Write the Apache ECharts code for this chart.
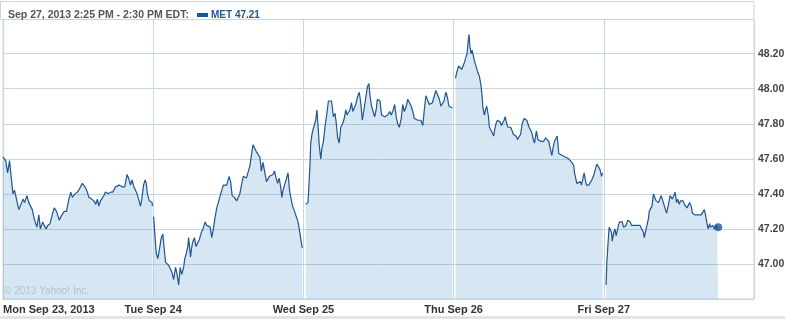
<!DOCTYPE html>
<html><head><meta charset="utf-8">
<script src="https://cdn.jsdelivr.net/npm/echarts@6/dist/echarts.min.js"></script>
<style>html,body{margin:0;padding:0;background:#fff}#c{width:809px;height:319px}</style>
</head><body><div id="c"></div>
<script>
// Session day labels (each trading session = 390 minutes, 9:30 AM - 4:00 PM)
const DAY_LABELS = ['Mon Sep 23, 2013', 'Tue Sep 24', 'Wed Sep 25', 'Thu Sep 26', 'Fri Sep 27'];
const Y_TICKS = [47.00, 47.20, 47.40, 47.60, 47.80, 48.00, 48.20];
const HEADER = 'Sep 27, 2013 2:25 PM - 2:30 PM EDT:';
const TICKER = 'MET';
const COPYRIGHT = '\u00a9 2013 Yahoo! Inc.';

// [minutes since open, price]
const MON = [[0,47.61],[7,47.59],[12,47.52],[17,47.59],[21,47.50],[26,47.40],[30,47.42],[36,47.36],[41,47.31],[46,47.32],[52,47.37],[56,47.35],[62,47.39],[67,47.35],[70,47.36],[76,47.31],[82,47.25],[88,47.21],[93,47.28],[97,47.20],[103,47.24],[107,47.22],[112,47.20],[116,47.22],[122,47.23],[129,47.29],[133,47.32],[139,47.30],[146,47.25],[153,47.28],[159,47.30],[165,47.30],[170,47.36],[176,47.41],[180,47.38],[187,47.40],[193,47.41],[199,47.43],[206,47.46],[213,47.44],[219,47.41],[223,47.38],[230,47.37],[236,47.36],[241,47.34],[245,47.37],[249,47.33],[253,47.36],[258,47.37],[262,47.39],[266,47.41],[273,47.40],[279,47.41],[285,47.41],[292,47.44],[296,47.45],[302,47.45],[309,47.44],[316,47.44],[322,47.51],[326,47.49],[331,47.45],[335,47.48],[340,47.44],[344,47.42],[348,47.40],[352,47.37],[357,47.33],[361,47.38],[365,47.45],[369,47.48],[372,47.46],[375,47.40],[380,47.36],[384,47.37],[387,47.35],[388,47.33]];
const TUE = [[1,47.27],[4,47.18],[8,47.06],[12,47.03],[16,47.08],[21,47.15],[25,47.17],[28,47.16],[32,47.01],[36,47.00],[41,46.99],[45,46.97],[49,46.95],[53,46.91],[58,46.98],[62,46.94],[66,46.88],[70,46.98],[74,46.94],[79,46.98],[82,47.03],[86,47.06],[90,47.10],[92,47.15],[97,47.04],[99,47.08],[102,47.12],[107,47.15],[111,47.10],[115,47.10],[120,47.14],[125,47.18],[131,47.21],[135,47.24],[139,47.22],[144,47.21],[148,47.21],[152,47.15],[157,47.21],[161,47.27],[165,47.32],[169,47.35],[174,47.39],[178,47.39],[182,47.45],[187,47.45],[191,47.45],[197,47.50],[201,47.47],[205,47.39],[211,47.38],[217,47.36],[221,47.38],[225,47.40],[230,47.46],[234,47.50],[238,47.51],[242,47.49],[246,47.50],[251,47.56],[255,47.62],[259,47.68],[264,47.68],[268,47.64],[272,47.63],[277,47.61],[281,47.53],[285,47.58],[290,47.52],[294,47.47],[298,47.48],[302,47.50],[307,47.51],[311,47.51],[315,47.53],[318,47.50],[323,47.46],[327,47.49],[331,47.44],[334,47.38],[337,47.42],[341,47.45],[345,47.48],[350,47.52],[354,47.42],[358,47.37],[362,47.33],[367,47.30],[371,47.30],[376,47.24],[380,47.19],[384,47.13],[387,47.09]];
const WED = [[6,47.34],[12,47.35],[15,47.36],[17,47.56],[19,47.69],[23,47.75],[28,47.79],[32,47.82],[35,47.88],[38,47.79],[41,47.68],[45,47.60],[48,47.66],[52,47.70],[56,47.78],[61,47.86],[65,47.93],[69,47.94],[73,47.93],[78,47.84],[82,47.86],[85,47.81],[89,47.72],[93,47.69],[97,47.78],[102,47.80],[106,47.83],[110,47.88],[113,47.85],[116,47.86],[121,47.88],[125,47.92],[128,47.87],[132,47.89],[136,47.91],[140,47.95],[145,47.98],[149,47.92],[153,47.82],[158,47.89],[162,47.95],[166,48.01],[170,48.03],[173,47.96],[177,47.90],[181,47.87],[185,47.84],[189,47.88],[192,47.94],[196,47.95],[199,47.93],[203,47.85],[207,47.84],[211,47.84],[215,47.84],[219,47.85],[224,47.87],[228,47.85],[232,47.87],[237,47.91],[241,47.84],[245,47.80],[249,47.78],[254,47.83],[258,47.91],[262,47.87],[267,47.90],[271,47.94],[275,47.94],[280,47.90],[284,47.87],[288,47.83],[292,47.82],[297,47.82],[301,47.83],[305,47.82],[310,47.79],[314,47.88],[318,47.96],[322,47.96],[327,47.91],[331,47.91],[335,47.92],[340,47.96],[344,47.99],[348,47.99],[353,47.94],[357,47.90],[361,47.90],[365,47.93],[370,47.98],[374,47.95],[378,47.90],[383,47.90],[387,47.89]];
const THU = [[5,48.06],[9,48.10],[13,48.13],[18,48.13],[21,48.11],[25,48.10],[28,48.15],[32,48.18],[35,48.20],[37,48.25],[40,48.31],[42,48.25],[45,48.20],[48,48.22],[50,48.23],[54,48.16],[58,48.13],[62,48.10],[67,48.07],[71,48.02],[74,47.96],[76,47.89],[80,47.85],[83,47.88],[86,47.90],[90,47.85],[93,47.78],[97,47.78],[100,47.75],[104,47.73],[107,47.77],[110,47.80],[114,47.82],[117,47.83],[121,47.81],[124,47.79],[128,47.80],[131,47.82],[134,47.84],[138,47.80],[141,47.78],[145,47.77],[148,47.78],[152,47.76],[155,47.74],[159,47.74],[162,47.73],[166,47.71],[170,47.71],[174,47.74],[178,47.80],[183,47.83],[186,47.83],[190,47.82],[193,47.80],[196,47.78],[200,47.78],[203,47.75],[207,47.71],[210,47.69],[213,47.73],[215,47.76],[219,47.71],[222,47.70],[226,47.70],[230,47.70],[234,47.70],[239,47.72],[243,47.72],[247,47.70],[251,47.66],[255,47.62],[258,47.66],[262,47.70],[265,47.71],[269,47.73],[273,47.63],[277,47.62],[281,47.62],[286,47.61],[290,47.61],[294,47.60],[299,47.60],[303,47.59],[307,47.58],[312,47.56],[314,47.52],[317,47.49],[320,47.46],[324,47.45],[329,47.47],[332,47.45],[336,47.45],[339,47.52],[342,47.48],[345,47.45],[348,47.45],[351,47.45],[355,47.46],[359,47.48],[363,47.50],[368,47.54],[372,47.57],[376,47.57],[380,47.54],[384,47.50],[387,47.52]];
const FRI = [[6,46.88],[8,47.01],[11,47.12],[14,47.21],[17,47.22],[20,47.18],[22,47.13],[26,47.18],[29,47.20],[32,47.16],[34,47.15],[38,47.22],[41,47.24],[45,47.24],[48,47.24],[51,47.21],[55,47.20],[58,47.22],[62,47.25],[65,47.26],[69,47.24],[72,47.22],[75,47.21],[79,47.22],[82,47.23],[86,47.22],[90,47.21],[94,47.22],[99,47.21],[103,47.18],[105,47.15],[109,47.19],[112,47.22],[116,47.26],[118,47.30],[122,47.30],[125,47.33],[129,47.40],[132,47.38],[136,47.36],[139,47.35],[142,47.35],[146,47.36],[149,47.39],[153,47.38],[156,47.34],[160,47.31],[163,47.29],[165,47.28],[168,47.34],[172,47.39],[175,47.38],[178,47.37],[182,47.39],[185,47.41],[189,47.35],[192,47.37],[196,47.34],[199,47.36],[202,47.35],[206,47.36],[209,47.34],[213,47.35],[216,47.32],[220,47.33],[223,47.35],[227,47.33],[230,47.29],[233,47.29],[237,47.28],[240,47.28],[244,47.28],[249,47.28],[253,47.28],[257,47.29],[261,47.31],[264,47.28],[268,47.23],[271,47.20],[275,47.23],[277,47.21],[281,47.21],[283,47.22],[287,47.20],[289,47.19],[292,47.22],[294,47.20],[297,47.21]];

const DAYS = [MON, TUE, WED, THU, FRI];
const SESSION = 390;
const LINE = '#1f5592';
const GRID = '#c9d6df';

const chart = echarts.init(document.getElementById('c'), null, {renderer: 'canvas'});
const last = FRI[FRI.length - 1];
const series = DAYS.map((arr, d) => ({
  name: TICKER, type: 'line', showSymbol: false, animation: false,
  data: arr.map(p => [d * SESSION + p[0], p[1]]),
  lineStyle: {color: LINE, width: 1.2},
  itemStyle: {color: LINE},
  areaStyle: {origin: 'start', color: 'rgba(70,140,195,0.22)', opacity: 1}
}));
series.push({
  name: TICKER, type: 'scatter', animation: false, symbolSize: 8,
  itemStyle: {color: LINE},
  data: [[4 * SESSION + last[0], last[1]]]
});

chart.setOption({
  animation: false,
  title: {text: HEADER, left: 3, top: 5, textStyle: {fontFamily: 'Liberation Sans', fontSize: 10.5, fontWeight: 'bold', color: '#555'}},
  legend: {
    left: 192, top: 5, icon: 'rect', itemWidth: 11, itemHeight: 4, itemGap: 4,
    data: [TICKER],
    formatter: n => n + ' ' + last[1].toFixed(2),
    textStyle: {fontFamily: 'Liberation Sans', fontSize: 10, fontWeight: 'bold', color: LINE, padding: [0,0,0,-2]}
  },
  grid: {left: 0, right: 55, top: 19.5, bottom: 20, show: true, borderColor: GRID, borderWidth: 1},
  graphic: [
    {type: 'rect', shape: {x: 0.5, y: 1.5, width: 753.5, height: 18}, style: {fill: '#fff', stroke: GRID, lineWidth: 1}, z: 1},
    {type: 'text', left: 4, top: 286, style: {text: COPYRIGHT, fontFamily: 'Liberation Sans', fontSize: 10, fill: '#b3c3d0'}, z: 10},
    {type: 'rect', shape: {x: 0, y: 316, width: 785, height: 3}, style: {fill: '#e3e3e3'}}
  ],
  xAxis: {
    type: 'value', min: 0, max: 5 * SESSION, interval: SESSION,
    axisLine: {lineStyle: {color: GRID}}, axisTick: {show: false},
    splitLine: {lineStyle: {color: GRID, width: 1}},
    axisLabel: {
      margin: 5, color: '#333', fontFamily: 'Liberation Sans', fontWeight: 'bold', fontSize: 11,
      alignMinLabel: 'left', showMaxLabel: false,
      formatter: v => DAY_LABELS[Math.round(v / SESSION)] || ''
    }
  },
  yAxis: {
    type: 'value', position: 'right', min: 46.8, max: 48.395, interval: 0.2,
    axisLine: {show: true, lineStyle: {color: GRID}}, axisTick: {show: false},
    splitLine: {lineStyle: {color: GRID, width: 1}},
    axisLabel: {
      margin: 4, color: '#444', fontFamily: 'Liberation Sans', fontWeight: 'bold', fontSize: 10.5,
      showMinLabel: false, showMaxLabel: false,
      formatter: v => Y_TICKS.some(t => Math.abs(t - v) < 1e-6) ? v.toFixed(2) : ''
    }
  },
  series: series
});
</script>
</body></html>
